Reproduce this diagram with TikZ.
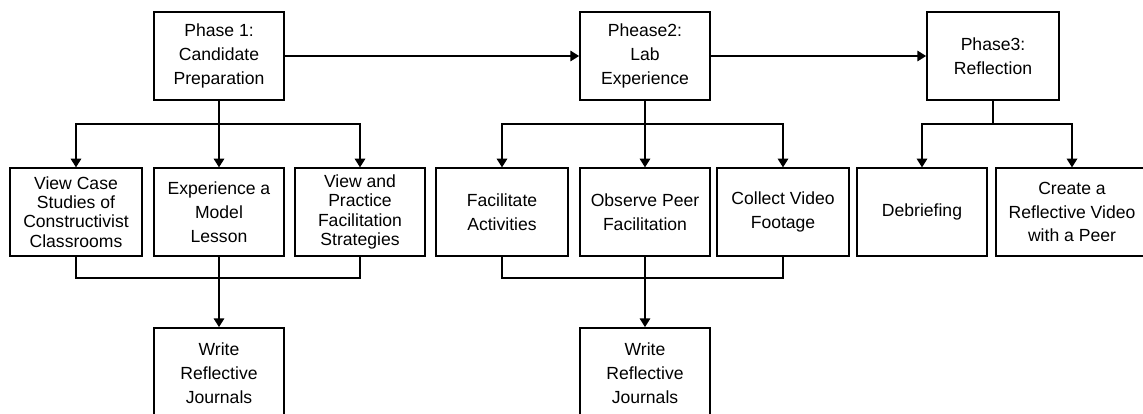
\documentclass[tikz,border=0pt]{standalone}
\usepackage{fontspec}
\setmainfont{Liberation Sans}
\usetikzlibrary{arrows.meta, positioning}

\tikzset{
  box/.style={draw, line width=1pt, rectangle, inner sep=0pt, minimum width=26mm,
    minimum height=17.5mm, align=center, font=\fontsize{10}{13.5}\selectfont},
  tightbox/.style={box, font=\fontsize{10}{11}\selectfont},
  link/.style={line width=0.9pt},
  arr/.style={link, -{Triangle[width=6pt,length=5pt]}}
}

\begin{document}
\begin{tikzpicture}[x=0.2mm, y=-0.2mm]
    \useasboundingbox (0,0) rectangle (1143,413);
    \clip (0,0) rectangle (1143,413);

    % Phases
    \node[box] (p1) at (219,56) {Phase 1:\\Candidate\\Preparation};
    \node[box] (p2) at (645,56) {Phease2:\\Lab\\Experience};
    \node[box, minimum width=26.4mm] (p3) at (993,56) {Phase3:\\Reflection};

    % Activities
    \node[tightbox, minimum width=26.4mm] (a1) at (76,212) {View Case\\Studies of\\Constructivist\\Classrooms};
    \node[box] (a2) at (219,212) {Experience a\\Model\\Lesson};
    \node[tightbox] (a3) at (360,212) {View and\\Practice\\Facilitation\\Strategies};
    \node[box, minimum width=26.4mm] (b1) at (502,212) {Facilitate\\Activities};
    \node[box] (b2) at (645,212) {Observe Peer\\Facilitation};
    \node[box, minimum width=26.4mm] (b3) at (783,212) {Collect Video\\Footage};
    \node[box] (c1) at (922,212) {Debriefing};
    \node[box, minimum width=30.4mm] (c2) at (1072,212) {Create a\\Reflective Video\\with a Peer};

    % Journals
    \node[box, minimum height=18mm] (j1) at (219,373) {Write\\Reflective\\Journals};
    \node[box, minimum height=18mm] (j2) at (645,373) {Write\\Reflective\\Journals};

    % Phase to phase
    \draw[arr] (p1.east) -- (p2.west);
    \draw[arr] (p2.east) -- (p3.west);

    % Branch points
    \coordinate (s1) at (219,124);
    \coordinate (s2) at (645,124);
    \coordinate (s3) at (993,124);
    \coordinate (m1) at (219,278);
    \coordinate (m2) at (645,278);

    % Phase to activities
    \draw[link] (p1.south) -- (s1);
    \draw[link] (p2.south) -- (s2);
    \draw[link] (p3.south) -- (s3);
    \foreach \s/\t in {s1/a1, s1/a2, s1/a3, s2/b1, s2/b2, s2/b3, s3/c1, s3/c2} {
        \draw[arr] (\s) -| (\t.north);
    }

    % Activities to journals
    \draw[link] (a1.south) |- (m1) -| (a3.south);
    \draw[link] (b1.south) |- (m2) -| (b3.south);
    \draw[arr] (a2.south) -- (j1.north);
    \draw[arr] (b2.south) -- (j2.north);
\end{tikzpicture}
\end{document}
